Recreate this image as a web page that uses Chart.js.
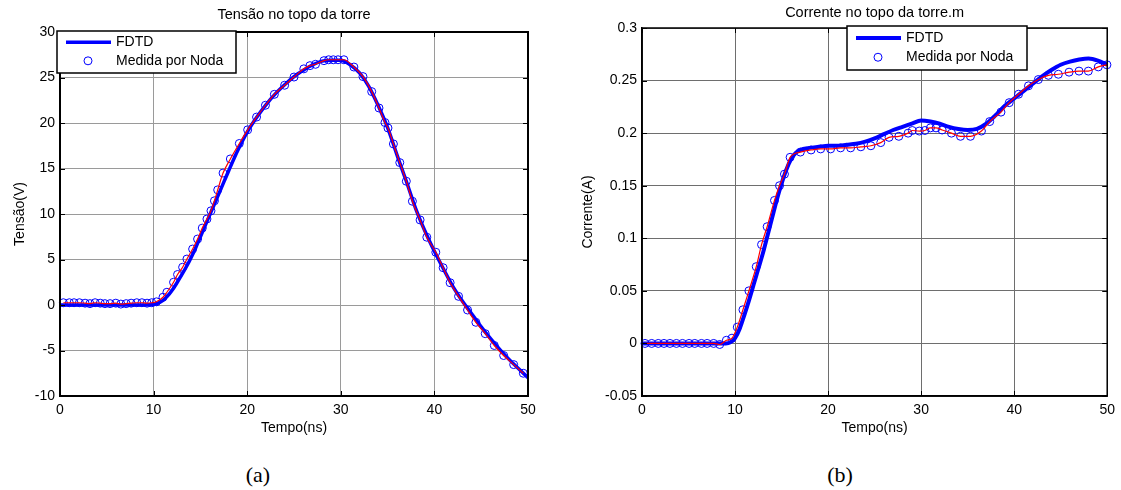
<!DOCTYPE html>
<html>
<head>
<meta charset="utf-8">
<script src="https://cdn.jsdelivr.net/npm/chart.js@4.4.1/dist/chart.umd.min.js"></script>
<style>
  body { margin: 0; background: #fff; width: 1121px; height: 490px; position: relative; overflow: hidden; }
  #wrapA { position: absolute; left: 0; top: 0; }
  #wrapB { position: absolute; left: 560px; top: 0; }
  .cap { position: absolute; top: 461px; width: 100px; text-align: center; line-height: 28px;
         font-family: "Liberation Serif", "Times New Roman", serif; font-size: 22px; color: #000; }
</style>
</head>
<body>
<div id="wrapA"><canvas id="chartA" width="560" height="440"></canvas></div>
<div id="wrapB"><canvas id="chartB" width="561" height="440"></canvas></div>
<div class="cap" style="left:208px">(a)</div>
<div class="cap" style="left:790px">(b)</div>
<script>
// ---- (a) Tensão no topo da torre ----
const tensaoTempoFdtd = [0, 2, 4, 6, 8, 9, 10, 10.5, 11, 11.5, 12, 12.5, 13, 13.5, 14, 14.5, 15, 15.5, 16, 16.5, 17, 17.5, 18, 19, 20,
  21, 22, 23, 24, 25, 26, 27, 28, 29, 30, 31, 32, 33, 34, 35, 36, 37, 38, 39, 40, 41, 42, 43, 44, 45, 46, 47, 48, 49, 50];
const tensaoFdtd = [0, 0, 0, 0, 0, 0, 0.05, 0.2, 0.5, 1.0, 1.65, 2.45, 3.3, 4.2, 5.2, 6.3, 7.5, 8.7, 9.9, 11.1, 12.3, 13.5, 14.7, 17.0, 19.0,
  20.6, 22.0, 23.2, 24.2, 25.1, 25.8, 26.4, 26.8, 26.9, 26.9, 26.4, 25.5, 24.0, 21.9, 19.5, 16.5, 13.6, 10.6, 8.1, 5.9, 3.9, 2.0, 0.4, -1.0, -2.4, -3.7, -4.9, -6.0, -7.0, -8.0];

const tensaoTempoNoda = [0.36, 1.0, 1.5, 2.07, 2.68, 3.2, 3.75, 4.3, 4.8, 5.35, 5.96, 6.5, 7.07, 7.6, 8.2, 8.75, 9.3, 9.8, 10.3, 11.0,
  11.42, 12.13, 12.56, 13.1, 13.56, 14.17, 14.7, 15.2, 15.7, 16.13, 16.5, 16.85, 17.42, 18.2, 19.16, 20.05, 21.0, 21.95, 22.9, 24.0,
  25.0, 26.05, 26.7, 27.3, 28.2, 28.7, 29.2, 29.7, 30.33, 31.4, 32.37, 33.3, 34.08, 34.72, 35.04, 35.62, 36.3, 37.0, 37.65, 38.47,
  39.19, 40.15, 40.93, 41.68, 42.58, 43.54, 44.43, 45.43, 46.4, 47.4, 48.47, 49.5];
const tensaoNoda = [0.25, 0.25, 0.25, 0.25, 0.2, 0.15, 0.25, 0.2, 0.15, 0.15, 0.2, 0.1, 0.15, 0.2, 0.25, 0.25, 0.2, 0.25, 0.35, 0.85,
  1.4, 2.5, 3.35, 4.15, 5.05, 6.15, 7.25, 8.45, 9.45, 10.35, 11.45, 12.65, 14.5, 16.05, 17.75, 19.25, 20.65, 21.95, 23.15, 24.15,
  25.05, 25.95, 26.3, 26.45, 26.85, 26.95, 26.95, 26.95, 26.95, 26.15, 25.1, 23.45, 21.65, 20.05, 19.45, 17.7, 15.65, 13.6, 11.4, 9.35,
  7.45, 5.8, 4.1, 2.45, 0.95, -0.55, -1.9, -3.15, -4.45, -5.55, -6.55, -7.5];

// ---- (b) Corrente no topo da torre ----
const correnteTempoFdtd = [0, 2, 4, 6, 8, 9, 9.5, 10, 10.5, 11, 11.5, 12, 12.5, 13, 13.5, 14, 14.5, 15, 15.5, 16, 16.5, 17, 18, 19, 20,
  21, 22, 23, 24, 25, 26, 27, 28, 29, 30, 31, 32, 33, 34, 35, 36, 37, 38, 39, 40, 41, 42, 43, 44, 45, 46, 47, 48, 49, 50];
const correnteFdtd = [0, 0, 0, 0, 0, 0, 0.001, 0.005, 0.014, 0.027, 0.041, 0.056, 0.071, 0.086, 0.103, 0.120, 0.137, 0.152, 0.165, 0.175, 0.181, 0.184, 0.186, 0.187, 0.188,
  0.188, 0.189, 0.190, 0.192, 0.195, 0.199, 0.203, 0.206, 0.209, 0.212, 0.211, 0.209, 0.206, 0.204, 0.203, 0.204, 0.209, 0.217, 0.226, 0.233, 0.240, 0.247, 0.254, 0.260, 0.265, 0.268, 0.270, 0.271, 0.269, 0.265];

const correnteTempoNoda = [0.32, 1.04, 1.75, 2.36, 3.0, 3.7, 4.35, 5.06, 5.67, 6.39, 7.0, 7.7, 8.35, 9.07, 9.67, 10.24, 10.85, 11.49, 12.28, 12.85,
  13.45, 14.24, 14.78, 15.31, 15.92, 17.02, 18.17, 19.2, 20.27, 21.34, 22.42, 23.52, 24.6, 25.66, 26.55, 27.6, 28.6, 29.05, 29.8, 30.4,
  31.0, 31.6, 32.26, 33.26, 34.23, 35.3, 36.48, 37.37, 38.58, 39.47, 40.47, 41.54, 42.6, 43.68, 44.75, 45.9, 46.97, 47.97, 49.04, 49.97];
const correnteNoda = [0, 0, 0, 0, 0, 0, 0, 0, 0, 0, 0, 0, -0.001, 0.003, 0.005, 0.0155, 0.032, 0.050, 0.073, 0.094,
  0.111, 0.136, 0.150, 0.161, 0.177, 0.182, 0.184, 0.185, 0.185, 0.186, 0.186, 0.187, 0.188, 0.191, 0.196, 0.197, 0.200, 0.2025, 0.202, 0.2025,
  0.205, 0.205, 0.203, 0.200, 0.197, 0.197, 0.202, 0.211, 0.220, 0.229, 0.237, 0.245, 0.251, 0.255, 0.256, 0.258, 0.259, 0.259, 0.263, 0.265];

const font = '"Liberation Sans", Arial, Helvetica, sans-serif';

function pts(xs, ys) {
  return xs.map((x, i) => ({ x: x, y: ys[i] }));
}

// box, inward ticks, title over the plot area and the MATLAB style legend
const matlabFrame = {
  id: 'matlabFrame',
  afterDatasetsDraw(chart, args, opts) {
    const { ctx, chartArea: a, scales } = chart;
    ctx.save();
    ctx.strokeStyle = '#000';
    ctx.lineWidth = 1;
    ctx.beginPath();
    scales.x.ticks.forEach(t => {
      const px = Math.round(scales.x.getPixelForValue(t.value)) + 0.5;
      ctx.moveTo(px, a.bottom); ctx.lineTo(px, a.bottom - 5);
      ctx.moveTo(px, a.top); ctx.lineTo(px, a.top + 5);
    });
    scales.y.ticks.forEach(t => {
      const py = Math.round(scales.y.getPixelForValue(t.value)) + 0.5;
      ctx.moveTo(a.left, py); ctx.lineTo(a.left + 5, py);
      ctx.moveTo(a.right, py); ctx.lineTo(a.right - 5, py);
    });
    ctx.stroke();
    ctx.lineWidth = opts.frameWidth;
    ctx.strokeRect(a.left, a.top, a.right - a.left, a.bottom - a.top);

    // title
    ctx.fillStyle = '#000';
    ctx.font = '14.5px ' + font;
    ctx.textAlign = 'center';
    ctx.textBaseline = 'middle';
    ctx.fillText(opts.title, (a.left + a.right) / 2, opts.titleY);

    // legend
    const bx = a.left + opts.x, by = a.top + opts.y;
    ctx.fillStyle = '#fff';
    ctx.fillRect(bx, by, opts.w, opts.h);
    ctx.lineWidth = 1.5;
    ctx.strokeRect(bx, by, opts.w, opts.h);
    const fdtd = chart.data.datasets[0];
    const noda = chart.data.datasets[1];
    const y1 = by + opts.h * 0.27, y2 = by + opts.h * 0.71;
    ctx.strokeStyle = fdtd.borderColor;
    ctx.lineWidth = fdtd.borderWidth;
    ctx.beginPath(); ctx.moveTo(bx + 9, y1); ctx.lineTo(bx + 54, y1); ctx.stroke();
    ctx.strokeStyle = noda.pointBorderColor;
    ctx.lineWidth = 1;
    ctx.beginPath(); ctx.arc(bx + 31, y2, 4, 0, Math.PI * 2); ctx.stroke();
    ctx.fillStyle = '#000';
    ctx.font = '14px ' + font;
    ctx.textAlign = 'left';
    ctx.fillText(fdtd.label, bx + 59, y1);
    ctx.fillText(noda.label, bx + 59, y2);
    ctx.restore();
  }
};

function makeChart(id, cfg) {
  return new Chart(document.getElementById(id), {
    type: 'line',
    data: {
      datasets: [
        { label: 'FDTD', data: pts(cfg.tf, cfg.vf), borderColor: '#0000ff', borderWidth: cfg.fdtdWidth,
          pointRadius: 0, cubicInterpolationMode: 'monotone', order: 3 },
        { label: 'Medida por Noda', data: pts(cfg.tn, cfg.vn), showLine: false, borderColor: '#0000ff',
          pointBorderColor: '#0000ff', pointBackgroundColor: 'rgba(0,0,0,0)', pointRadius: 4, pointBorderWidth: 1,
          pointStyle: 'circle', clip: false, order: 2 },
        { label: 'interp', data: pts(cfg.tn, cfg.vn), borderColor: '#ff0000', borderWidth: 1.2,
          pointRadius: 0, cubicInterpolationMode: 'monotone', order: 1 }
      ]
    },
    options: {
      responsive: false,
      animation: false,
      events: [],
      layout: { padding: { left: 0, right: cfg.padRight, top: cfg.padTop, bottom: 0 } },
      scales: {
        x: {
          type: 'linear', min: 0, max: 50,
          ticks: { stepSize: 10, padding: 6, color: '#000', font: { family: font, size: 14 } },
          grid: { color: cfg.gridColor, lineWidth: 1, drawTicks: false },
          border: { color: '#000', width: cfg.frameWidth },
          title: { display: true, text: 'Tempo(ns)', color: '#000', font: { family: font, size: 14 }, padding: { top: 0, bottom: 3.6 } },
          afterFit: s => { s.height = 44; }
        },
        y: {
          min: cfg.yMin, max: cfg.yMax,
          ticks: { stepSize: cfg.yStep, padding: 5, color: '#000', font: { family: font, size: 14 },
                   callback: v => String(Number(v.toFixed(2))) },
          grid: { color: cfg.gridColor, lineWidth: 1, drawTicks: false },
          border: { color: '#000', width: cfg.frameWidth },
          title: { display: true, text: cfg.yTitle, color: '#000', font: { family: font, size: 14 }, padding: { top: cfg.yTitlePad, bottom: 0 } },
          afterFit: s => { s.width = cfg.yWidth; }
        }
      },
      plugins: {
        legend: { display: false },
        tooltip: { enabled: false },
        title: { display: false },
        matlabFrame: cfg.frame
      }
    },
    plugins: [matlabFrame]
  });
}

makeChart('chartA', {
  tf: tensaoTempoFdtd, vf: tensaoFdtd, tn: tensaoTempoNoda, vn: tensaoNoda,
  yTitle: 'Tensão(V)',
  yMin: -10, yMax: 30, yStep: 5, yWidth: 60, yTitlePad: 11.6, padRight: 32, padTop: 32,
  fdtdWidth: 3.5, gridColor: '#9a9a9a', frameWidth: 2,
  frame: { title: 'Tensão no topo da torre', titleY: 15, x: -3, y: -1, w: 179, h: 42, frameWidth: 2 }
});

makeChart('chartB', {
  tf: correnteTempoFdtd, vf: correnteFdtd, tn: correnteTempoNoda, vn: correnteNoda,
  yTitle: 'Corrente(A)',
  yMin: -0.05, yMax: 0.3, yStep: 0.05, yWidth: 82, yTitlePad: 19.6, padRight: 12, padTop: 28,
  fdtdWidth: 4, gridColor: '#6e6e6e', frameWidth: 1.5,
  frame: { title: 'Corrente no topo da torre.m', titleY: 13, x: 205, y: -2, w: 180, h: 44, frameWidth: 1.5 }
});
</script>
</body>
</html>
